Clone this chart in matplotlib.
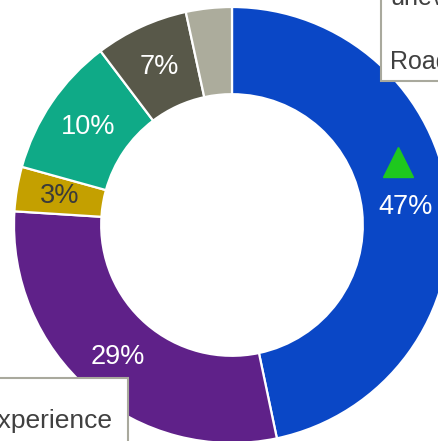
import matplotlib
matplotlib.use("Agg")
import matplotlib.pyplot as plt
from matplotlib.patches import Rectangle

plt.rcParams['font.family'] = ['Liberation Sans', 'DejaVu Sans']

# share of each category, clockwise from 12 o'clock
categories = ['Blue', 'Purple', 'Mustard', 'Teal', 'Dark gray', 'Light gray']
shares = [46.7, 29.3, 3.3, 10.4, 6.9, 3.4]
colors = ['#0A47C6', '#5F2189', '#C4A000', '#0FAA87', '#585849', '#ACAC9C']
label_colors = ['white', 'white', '#3A3A3A', 'white', 'white', None]

# callout text (boxes partly outside the canvas)
callout_top = ['uneven', 'Road']
callout_bottom = 'experience'

W, H = 439, 441
fig = plt.figure(figsize=(W / 100, H / 100), dpi=100)

# donut centre at (232, 225) px from the top-left, outer radius 218 px
cx, cy, r = 232, 225, 218
ax = fig.add_axes([(cx - r) / W, (H - cy - r) / H, 2 * r / W, 2 * r / H])

wedges, _, autotexts = ax.pie(
    shares, colors=colors, startangle=90, counterclock=False, radius=1,
    autopct='%.0f%%', pctdistance=0.8,
    wedgeprops=dict(width=0.4, edgecolor='white', linewidth=1.6),
    textprops=dict(fontsize=19.5))
for t, c in zip(autotexts, label_colors):
    if c is None:
        t.set_visible(False)
    else:
        t.set_color(c)

ax.set_xlim(-1, 1)
ax.set_ylim(-1, 1)
ax.set_aspect('equal')
ax.axis('off')

# green marker on the largest slice
ax.plot([0.761], [0.289], marker='^', markersize=22, color='#1EC81E',
        linestyle='none')

# callout boxes
box_style = dict(facecolor='white', edgecolor='#A9A99D', linewidth=1.5,
                 transform=fig.transFigure, zorder=5)
fig.add_artist(Rectangle((381 / W, 1 - 81 / H), 0.3, 0.3, **box_style))
fig.add_artist(Rectangle((-0.2, -0.2), 0.2 + 128 / W, 0.2 + (H - 378) / H, **box_style))

fig.text(390 / W, 1 - 5 / H, callout_top[0], fontsize=18, color='#404040',
         va='baseline', ha='left', zorder=6)
fig.text(390 / W, 1 - 69 / H, callout_top[1], fontsize=18, color='#404040',
         va='baseline', ha='left', zorder=6)
fig.text(113 / W, 1 - 428 / H, callout_bottom, fontsize=19, color='#404040',
         va='baseline', ha='right', zorder=6)

fig.savefig('out.png', dpi=100)
